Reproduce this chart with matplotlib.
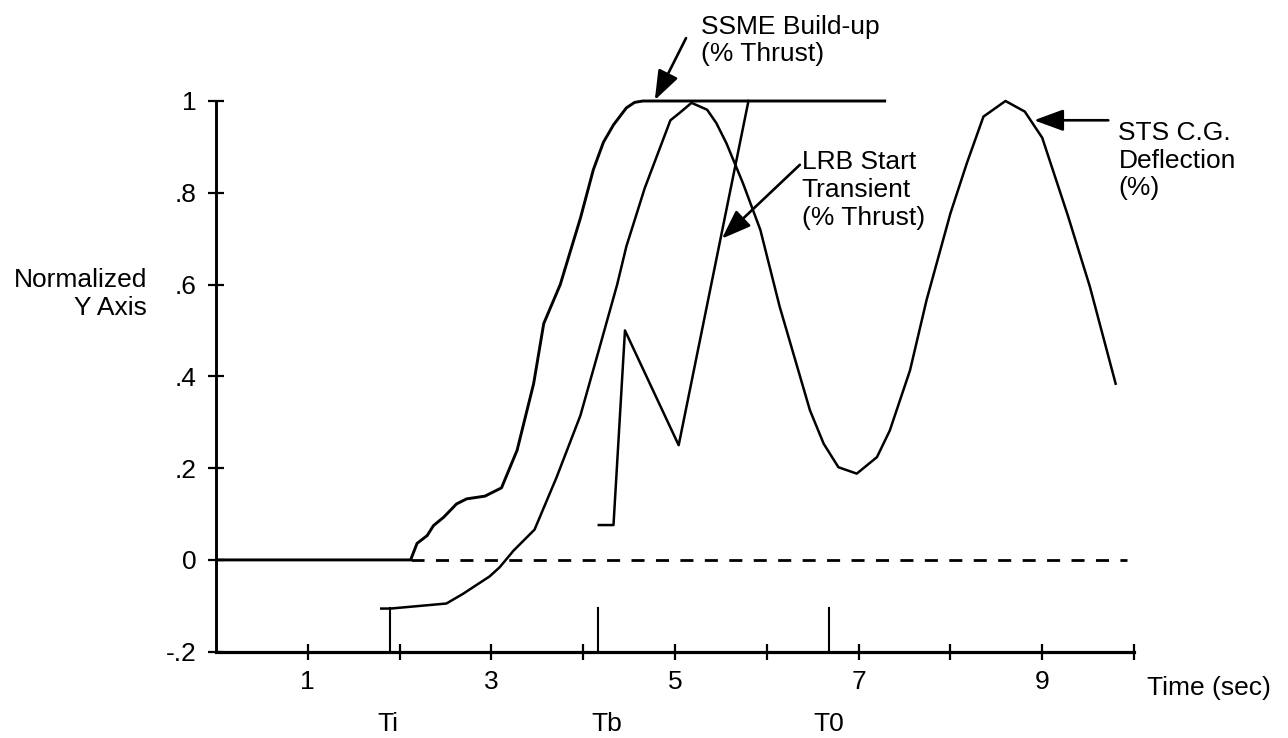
import matplotlib.pyplot as plt

plt.rcParams['font.family'] = ['Liberation Sans', 'DejaVu Sans']

# SSME build-up (% thrust)
ssme_t = [0, 2.12, 2.19, 2.30, 2.37, 2.48, 2.62, 2.73, 2.93, 3.11, 3.28, 3.46,
          3.57, 3.75, 3.97, 4.11, 4.22, 4.33, 4.47, 4.56, 4.65, 7.30]
ssme_y = [0, 0, 0.036, 0.053, 0.075, 0.093, 0.122, 0.133, 0.139, 0.157, 0.239, 0.384,
          0.515, 0.600, 0.745, 0.850, 0.910, 0.948, 0.985, 0.997, 1.0, 1.0]

# STS C.G. deflection (%)
sts_t = [1.80, 1.90, 2.51, 2.69, 2.98, 3.09, 3.24, 3.47, 3.71, 3.97, 4.17, 4.37,
         4.47, 4.67, 4.95, 5.05, 5.18, 5.35, 5.45, 5.56, 5.74, 5.93, 6.14, 6.47,
         6.62, 6.78, 6.98, 7.20, 7.34, 7.56, 7.74, 8.00, 8.18, 8.36, 8.60, 8.81,
         9.00, 9.28, 9.52, 9.80]
sts_y = [-0.106, -0.106, -0.095, -0.074, -0.036, -0.016, 0.020, 0.066, 0.180, 0.315, 0.457, 0.600,
         0.683, 0.810, 0.958, 0.974, 0.996, 0.981, 0.952, 0.908, 0.821, 0.719, 0.552, 0.326,
         0.253, 0.202, 0.188, 0.224, 0.282, 0.413, 0.566, 0.755, 0.865, 0.966, 1.0, 0.977,
         0.920, 0.750, 0.595, 0.384]

# LRB start transient (% thrust)
lrb_t = [4.17, 4.33, 4.455, 5.04, 5.80]
lrb_y = [0.076, 0.076, 0.50, 0.25, 1.0]

# zero reference (dashed)
zero_t = [2.12, 9.92]
zero_y = [0, 0]

# event markers
event_t = [1.89, 4.16, 6.68]
event_names = ['Ti', 'Tb', 'T0']
event_top = -0.105

x_ticks = list(range(1, 11))
x_ticklabels = ['1', '', '3', '', '5', '', '7', '', '9', '']
y_ticks = [-0.2, 0, 0.2, 0.4, 0.6, 0.8, 1.0]
y_ticklabels = ['-.2', '0', '.2', '.4', '.6', '.8', '1']

fig = plt.figure(figsize=(12.88, 7.38), dpi=100)
ax = fig.add_axes([216 / 1288, 86.3 / 738, 918 / 1288, 550.7 / 738])
ax.set_xlim(0, 10)
ax.set_ylim(-0.2, 1.0)

fs = 19

ax.plot(ssme_t, ssme_y, color='black', lw=2.1, clip_on=False, solid_capstyle='butt')
ax.plot(sts_t, sts_y, color='black', lw=1.8, clip_on=False)
ax.plot(lrb_t, lrb_y, color='black', lw=1.8, clip_on=False)
ax.plot(zero_t, zero_y, color='black', lw=2.0, linestyle=(0, (4.7, 4.1)), clip_on=False)

# time markers rising from the axis
for t, name, dx in zip(event_t, event_names, [-0.02, 0.10, -0.01]):
    ax.plot([t, t], [-0.2, event_top], color='black', lw=1.5, clip_on=False)
    ax.text(t + dx, -0.357, name, ha='center', va='center', fontsize=fs)

# axes styling
for side in ['top', 'right']:
    ax.spines[side].set_visible(False)
ax.spines['left'].set_linewidth(2.1)
ax.spines['bottom'].set_linewidth(2.3)
ax.set_xticks(x_ticks)
ax.set_xticklabels(x_ticklabels)
ax.set_yticks(y_ticks)
ax.set_yticklabels(y_ticklabels)
ax.tick_params(direction='inout', length=12, width=1.6, labelsize=fs)
ax.tick_params(axis='x', pad=7)
ax.tick_params(axis='y', pad=8)

ax.text(-0.75, 0.579, 'Normalized\nY Axis', ha='right', va='center',
        multialignment='right', fontsize=fs)
ax.text(10.14, -0.28, 'Time (sec)', ha='left', va='center', fontsize=fs, clip_on=False)

# callouts
arrow = dict(arrowstyle='-|>,head_length=0.6,head_width=0.22', color='black',
             lw=1.9, mutation_scale=30, shrinkA=0, shrinkB=0)
ax.annotate('', xy=(4.78, 1.002), xytext=(5.12, 1.137), arrowprops=arrow,
            annotation_clip=False)
ax.text(5.28, 1.132, 'SSME Build-up\n(% Thrust)', ha='left', va='center', fontsize=fs)

ax.annotate('', xy=(5.51, 0.70), xytext=(6.36, 0.861), arrowprops=arrow,
            annotation_clip=False)
ax.text(6.38, 0.806, 'LRB Start\nTransient\n(% Thrust)', ha='left', va='center', fontsize=fs)

ax.annotate('', xy=(8.91, 0.958), xytext=(9.72, 0.958), arrowprops=arrow,
            annotation_clip=False)
ax.text(9.83, 0.87, 'STS C.G.\nDeflection\n(%)', ha='left', va='center', fontsize=fs)

fig.savefig('out.png', dpi=100)
